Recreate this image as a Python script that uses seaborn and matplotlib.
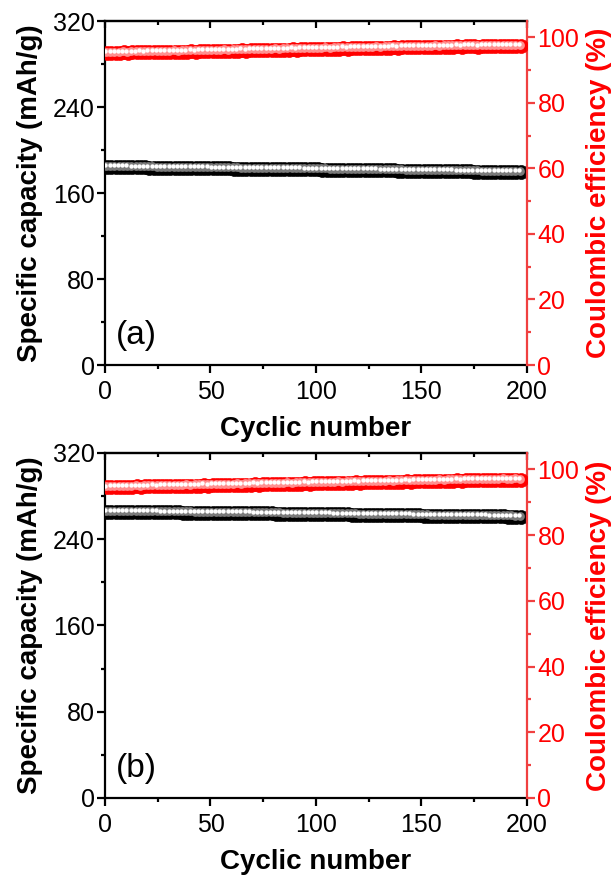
import matplotlib
matplotlib.use("Agg")
import matplotlib.pyplot as plt
import matplotlib.transforms as mtransforms
from matplotlib.ticker import MultipleLocator
import pandas as pd
import seaborn as sns

# cycle index (every second cycle is shown)
cycles = list(range(1, 198, 2))

# panel (a)
cap_a = [
    184.3, 184.2, 184.1, 184.1, 184.0, 184.0, 183.9, 183.9, 183.8, 183.8,
    183.7, 183.7, 183.6, 183.6, 183.5, 183.5, 183.5, 183.4, 183.4, 183.3,
    183.3, 183.2, 183.2, 183.1, 183.1, 183.0, 183.0, 182.9, 182.9, 182.9,
    182.8, 182.8, 182.7, 182.7, 182.6, 182.6, 182.5, 182.5, 182.4, 182.4,
    182.4, 182.3, 182.3, 182.2, 182.2, 182.1, 182.1, 182.0, 182.0, 181.9,
    181.9, 181.8, 181.8, 181.7, 181.7, 181.6, 181.6, 181.5, 181.5, 181.4,
    181.4, 181.3, 181.3, 181.2, 181.2, 181.1, 181.1, 181.0, 181.0, 180.9,
    180.9, 180.8, 180.8, 180.7, 180.7, 180.6, 180.6, 180.5, 180.5, 180.4,
    180.4, 180.3, 180.3, 180.2, 180.2, 180.1, 180.1, 180.0, 180.0, 179.9,
    179.9, 179.8, 179.8, 179.7, 179.7, 179.6, 179.6, 179.5, 179.5,
]
ce_a = [
    95.2, 95.3, 95.2, 95.3, 95.4, 95.3, 95.4, 95.4, 95.5, 95.4,
    95.5, 95.5, 95.6, 95.5, 95.6, 95.6, 95.7, 95.6, 95.7, 95.7,
    95.8, 95.7, 95.8, 95.8, 95.9, 95.8, 95.9, 95.9, 96.0, 95.9,
    96.0, 96.0, 96.1, 96.0, 96.1, 96.1, 96.2, 96.1, 96.2, 96.2,
    96.3, 96.2, 96.3, 96.3, 96.4, 96.3, 96.4, 96.4, 96.5, 96.4,
    96.5, 96.5, 96.6, 96.5, 96.6, 96.6, 96.7, 96.6, 96.7, 96.7,
    96.8, 96.7, 96.8, 96.8, 96.9, 96.8, 96.9, 96.9, 97.0, 96.9,
    97.0, 97.0, 97.0, 97.1, 97.0, 97.1, 97.1, 97.1, 97.2, 97.1,
    97.2, 97.2, 97.2, 97.3, 97.2, 97.3, 97.3, 97.3, 97.2, 97.3,
    97.3, 97.4, 97.3, 97.3, 97.4, 97.3, 97.4, 97.3, 97.4,
]

# panel (b)
cap_b = [
    265.5, 265.4, 265.4, 265.3, 265.3, 265.3, 265.2, 265.2, 265.1, 265.1,
    265.1, 265.0, 265.0, 264.9, 264.9, 264.9, 264.8, 264.8, 264.7, 264.7,
    264.7, 264.6, 264.6, 264.5, 264.5, 264.5, 264.4, 264.4, 264.3, 264.3,
    264.2, 264.2, 264.2, 264.1, 264.1, 264.0, 264.0, 263.9, 263.9, 263.9,
    263.8, 263.8, 263.7, 263.7, 263.6, 263.6, 263.5, 263.5, 263.4, 263.4,
    263.3, 263.3, 263.2, 263.2, 263.1, 263.1, 263.0, 263.0, 262.9, 262.9,
    262.8, 262.8, 262.7, 262.7, 262.6, 262.6, 262.5, 262.5, 262.4, 262.4,
    262.3, 262.3, 262.2, 262.1, 262.1, 262.0, 262.0, 261.9, 261.9, 261.8,
    261.8, 261.7, 261.7, 261.6, 261.6, 261.5, 261.5, 261.4, 261.4, 261.3,
    261.3, 261.2, 261.2, 261.1, 261.1, 261.0, 261.0, 260.9, 260.9,
]
ce_b = [
    94.5, 94.6, 94.6, 94.7, 94.6, 94.7, 94.7, 94.8, 94.7, 94.8,
    94.8, 94.9, 94.8, 94.9, 94.9, 95.0, 94.9, 95.0, 95.0, 95.1,
    95.0, 95.1, 95.1, 95.2, 95.1, 95.2, 95.2, 95.3, 95.2, 95.3,
    95.3, 95.4, 95.3, 95.4, 95.4, 95.5, 95.4, 95.5, 95.5, 95.6,
    95.5, 95.6, 95.6, 95.7, 95.6, 95.7, 95.7, 95.8, 95.7, 95.8,
    95.8, 95.9, 95.8, 95.9, 95.9, 96.0, 95.9, 96.0, 96.0, 96.1,
    96.0, 96.1, 96.1, 96.2, 96.1, 96.2, 96.2, 96.3, 96.2, 96.3,
    96.3, 96.4, 96.3, 96.4, 96.4, 96.5, 96.4, 96.5, 96.5, 96.6,
    96.5, 96.6, 96.6, 96.7, 96.6, 96.7, 96.7, 96.8, 96.7, 96.8,
    96.8, 96.7, 96.8, 96.8, 96.9, 96.8, 96.8, 96.9, 96.8,
]

panels = [("(a)", cap_a, ce_a), ("(b)", cap_b, ce_b)]

sns.set_style("ticks")
plt.rcParams["font.family"] = ["Liberation Sans", "DejaVu Sans"]
plt.rcParams["text.color"] = "black"
plt.rcParams["axes.labelcolor"] = "black"
plt.rcParams["xtick.color"] = "black"
plt.rcParams["ytick.color"] = "black"

RED = "#ff0000"
SPINE_RED = "#f04040"
TICK_FS = 18
LABEL_FS = 20

fig = plt.figure(figsize=(6.15, 8.77), dpi=100)
boxes = [[0.1707, 0.5838, 0.6862, 0.3922], [0.1707, 0.0901, 0.6862, 0.3934]]


def spheres(ax, df, y, base, mid):
    # fake 3D ball markers: solid ball + offset highlights
    sns.scatterplot(data=df, x="cycle", y=y, ax=ax, color=base, s=100,
                    edgecolor=base, linewidth=0.5, legend=False, zorder=3)
    off1 = mtransforms.offset_copy(ax.transData, fig=fig, x=-0.8, y=0.8, units="points")
    off2 = mtransforms.offset_copy(ax.transData, fig=fig, x=-1.3, y=1.3, units="points")
    ax.scatter(df["cycle"], df[y], s=40, color=mid, linewidth=0, transform=off1, zorder=4)
    ax.scatter(df["cycle"], df[y], s=10, color="white", linewidth=0, transform=off2, zorder=5)


for box, (tag, cap, ce) in zip(boxes, panels):
    df = pd.DataFrame({"cycle": cycles, "capacity": cap, "ce": ce})
    ax = fig.add_axes(box)
    ax2 = ax.twinx()

    spheres(ax, df, "capacity", "black", "#7a7a7a")
    spheres(ax2, df, "ce", RED, "#ff9090")

    ax.set_xlim(0, 200)
    ax.set_ylim(0, 320)
    ax2.set_ylim(0, 105)
    ax.xaxis.set_major_locator(MultipleLocator(50))
    ax.xaxis.set_minor_locator(MultipleLocator(25))
    ax.yaxis.set_major_locator(MultipleLocator(80))
    ax.yaxis.set_minor_locator(MultipleLocator(40))
    ax2.yaxis.set_major_locator(MultipleLocator(20))
    ax2.yaxis.set_minor_locator(MultipleLocator(10))

    for s in ["left", "bottom", "top"]:
        ax.spines[s].set_linewidth(1.6)
        ax.spines[s].set_color("black")
    ax.spines["right"].set_visible(False)
    for s in ["left", "bottom", "top"]:
        ax2.spines[s].set_visible(False)
    ax2.spines["right"].set_linewidth(1.6)
    ax2.spines["right"].set_color(SPINE_RED)

    ax.tick_params(axis="both", which="major", direction="out", length=5.5, width=1.6,
                   labelsize=TICK_FS, colors="black", pad=2)
    ax.tick_params(axis="x", which="major", pad=5)
    ax.tick_params(axis="both", which="minor", direction="out", length=3, width=1.6)
    ax.tick_params(axis="x", top=False)
    ax.tick_params(axis="y", right=False)

    top = ax.secondary_xaxis("top")
    top.xaxis.set_major_locator(MultipleLocator(50))
    top.xaxis.set_minor_locator(MultipleLocator(25))
    top.tick_params(which="major", direction="in", length=5, width=1.6, labeltop=False)
    top.tick_params(which="minor", direction="in", length=3, width=1.6)
    top.spines["top"].set_linewidth(1.6)

    ax2.tick_params(axis="y", which="major", direction="out", length=5.5, width=1.6,
                    labelsize=TICK_FS, colors=RED, pad=2)
    ax2.tick_params(axis="y", which="minor", direction="out", length=3, width=1.6,
                    colors=SPINE_RED)
    ax2.tick_params(axis="y", which="major", color=SPINE_RED)

    ax.set_xlabel("Cyclic number", fontsize=LABEL_FS, fontweight="bold", labelpad=9)
    ax.set_ylabel("Specific capacity (mAh/g)", fontsize=LABEL_FS, fontweight="bold",
                  labelpad=7)
    ax2.set_ylabel("Coulombic efficiency (%)", fontsize=LABEL_FS, fontweight="bold",
                   color=RED, labelpad=5)
    ax.text(0.025, 0.04, tag, transform=ax.transAxes, fontsize=24, ha="left", va="bottom")

fig.savefig("out.png", dpi=100)
